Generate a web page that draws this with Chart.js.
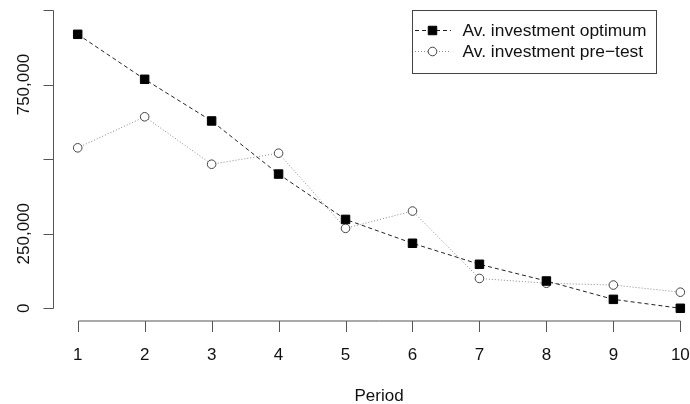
<!DOCTYPE html>
<html><head><meta charset="utf-8">
<script src="https://cdn.jsdelivr.net/npm/chart.js@4/dist/chart.umd.min.js"></script>
<style>html,body{margin:0;padding:0;background:#fff;}#wrap{width:690px;height:404px;position:relative;}</style>
</head><body><div id="wrap"><canvas id="c"></canvas></div>
<script>
// ---- data ----
const periods = [1, 2, 3, 4, 5, 6, 7, 8, 9, 10];
const optimum = [918500, 767700, 628000, 450000, 298000, 218000, 147500, 91500, 30000, 0];
const preTest = [538000, 642000, 483000, 520000, 268000, 326000, 100000, 84000, 78000, 54000];
const seriesNames = ['Av. investment optimum', 'Av. investment pre\u2212test'];
const xTickValues = [1, 2, 3, 4, 5, 6, 7, 8, 9, 10];
const xTickLabels = ['1', '2', '3', '4', '5', '6', '7', '8', '9', '10'];
const yTickValues = [0, 250000, 500000, 750000, 1000000];
const yTickLabels = ['0', '250,000', '', '750,000', ''];
const xTitle = 'Period';

const FONT = '"Liberation Sans", Arial, Helvetica, sans-serif';
const AXIS_COLOR = '#555';
const TEXT_COLOR = '#111';

const styles = [
  { color: '#222', dash: [4, 3], pointStyle: 'rect', radius: 6, fill: '#000', pborder: '#000' },
  { color: '#888', dash: [1, 2], pointStyle: 'circle', radius: 4.3, fill: '#fff', pborder: '#444' }
];

const rAxes = {
  id: 'rAxes',
  afterDraw(chart) {
    const ctx = chart.ctx, xs = chart.scales.x, ys = chart.scales.y, ca = chart.chartArea;
    ctx.save();
    ctx.strokeStyle = AXIS_COLOR; ctx.lineWidth = 1; ctx.setLineDash([]);
    // y axis
    const ax = ca.left + 0.5;
    const yTop = ys.getPixelForValue(yTickValues[yTickValues.length - 1]);
    const yBot = ys.getPixelForValue(yTickValues[0]);
    ctx.beginPath();
    ctx.moveTo(ax, Math.round(yTop) + 0.5); ctx.lineTo(ax, Math.round(yBot) + 0.5);
    yTickValues.forEach(v => {
      const py = Math.round(ys.getPixelForValue(v)) + 0.5;
      ctx.moveTo(ax, py); ctx.lineTo(ax - 10, py);
    });
    // x axis
    const ay = ca.bottom + 0.5;
    const xL = xs.getPixelForValue(xTickValues[0]);
    const xR = xs.getPixelForValue(xTickValues[xTickValues.length - 1]);
    ctx.moveTo(Math.round(xL) + 0.5, ay); ctx.lineTo(Math.round(xR) + 0.5, ay);
    xTickValues.forEach(v => {
      const px = Math.round(xs.getPixelForValue(v)) + 0.5;
      ctx.moveTo(px, ay); ctx.lineTo(px, ay + 11);
    });
    ctx.stroke();

    // tick labels
    ctx.fillStyle = TEXT_COLOR;
    ctx.font = '17px ' + FONT;
    ctx.textAlign = 'center'; ctx.textBaseline = 'alphabetic';
    xTickValues.forEach((v, i) => {
      ctx.fillText(xTickLabels[i], xs.getPixelForValue(v), ay + 38.5);
    });
    yTickValues.forEach((v, i) => {
      if (!yTickLabels[i]) return;
      ctx.save();
      ctx.translate(ca.left - 24, ys.getPixelForValue(v));
      ctx.rotate(-Math.PI / 2);
      ctx.fillText(yTickLabels[i], 0, 0);
      ctx.restore();
    });
    // axis title, centred on the R plot region (x from 0.64 to 10.36)
    ctx.fillText(xTitle, xs.getPixelForValue(5.5), 401);

    // legend
    const bx = 412.5, by = 10.5, bw = 244, bh = 63;
    ctx.strokeStyle = '#444';
    ctx.strokeRect(bx, by, bw, bh);
    const rows = [30.5, 51.5];
    ctx.font = '17.4px ' + FONT;
    chart.data.datasets.forEach((ds, i) => {
      const y = rows[i];
      const st = styles[i];
      ctx.save();
      ctx.strokeStyle = st.color; ctx.lineWidth = 1; ctx.setLineDash(st.dash);
      ctx.beginPath(); ctx.moveTo(415, y); ctx.lineTo(451, y); ctx.stroke();
      ctx.setLineDash([]);
      ctx.fillStyle = st.fill; ctx.strokeStyle = st.pborder; ctx.lineWidth = 1;
      Chart.helpers.drawPoint(ctx, { pointStyle: st.pointStyle, radius: st.radius, borderWidth: 1 }, 432.5, y);
      ctx.restore();
      ctx.fillStyle = TEXT_COLOR;
      ctx.textAlign = 'left'; ctx.textBaseline = 'middle';
      ctx.fillText(ds.label, 462.5, y + 1);
    });
    ctx.restore();
  }
};

const mk = (vals) => periods.map((p, i) => ({ x: p, y: vals[i] }));

new Chart(document.getElementById('c'), {
  type: 'line',
  data: {
    datasets: [optimum, preTest].map((vals, i) => ({
      label: seriesNames[i],
      data: mk(vals),
      borderColor: styles[i].color,
      borderWidth: 1,
      borderDash: styles[i].dash,
      pointStyle: styles[i].pointStyle,
      pointRadius: styles[i].radius,
      pointBackgroundColor: styles[i].fill,
      pointBorderColor: styles[i].pborder,
      pointBorderWidth: 1,
      tension: 0,
      fill: false,
      order: i,
      clip: false
    }))
  },
  options: {
    responsive: true,
    maintainAspectRatio: false,
    animation: false,
    layout: { autoPadding: false, padding: { left: 53, top: 0, right: 0, bottom: 83.5 } },
    scales: {
      x: { type: 'linear', min: 0.6311, max: 10.1444, display: false },
      y: { type: 'linear', min: -40899, max: 1033523, display: false }
    },
    plugins: { legend: { display: false }, tooltip: { enabled: false } },
    events: []
  },
  plugins: [rAxes]
});
</script>
</body></html>
